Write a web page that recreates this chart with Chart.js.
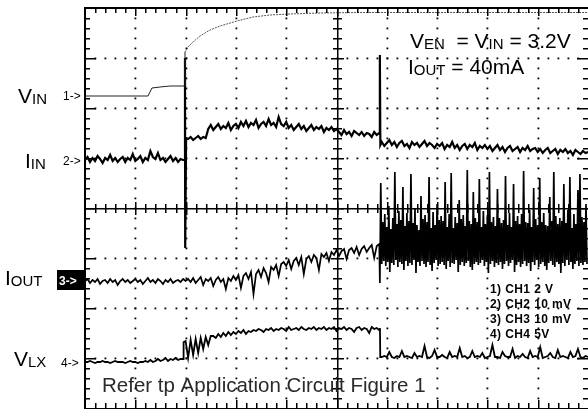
<!DOCTYPE html>
<html>
<head>
<meta charset="utf-8">
<script src="https://cdn.jsdelivr.net/npm/chart.js@4.4.1/dist/chart.umd.min.js"></script>
<style>
  html, body { margin: 0; padding: 0; background: #fff; }
  #scope { display: block; }
</style>
</head>
<body>
<canvas id="scope" width="588" height="409"></canvas>
<script>
// x: time in minor divisions (0..50), y: screen in minor divisions (0..40, 20 = centre)

// CH1 V_IN (key points)
const vinX = [0, 6.26, 6.66, 7.46, 8.45, 9.88, 9.94, 10.24, 10.74, 11.43, 12.43, 13.42, 15.11, 16.7, 18.39, 20.38, 23.36, 27.34, 31.31, 36.28, 41.25, 50];
const vinY = [31.2, 31.2, 32.0, 32.1, 32.2, 32.2, 35.6, 36.1, 36.6, 37.2, 37.8, 38.2, 38.7, 39.1, 39.3, 39.4, 39.5, 39.55, 39.55, 39.55, 39.55, 39.55];

// CH2 I_IN, sampled every 0.25
const iinPre = [24.8,25.1,24.6,25.0,24.7,25.2,24.9,24.5,25.0,24.8,
  25.3,24.7,25.0,24.6,24.9,25.1,24.6,25.0,24.8,25.4,
  24.7,24.9,25.2,24.6,25.0,24.8,25.7,25.1,24.9,25.5,
  24.8,25.0,24.6,24.9,25.2,24.7,25.0,24.6,24.9,24.8];
const iinSpike1X = [9.92, 9.94, 9.96, 10.05];
const iinSpike1Y = [24.8, 35.0, 16.0, 27.0];
const iinMid = [26.9,27.1,26.8,27.0,27.2,26.9,27.1,27.0,
  27.9,28.3,27.8,28.1,28.4,27.9,28.2,28.0,28.5,27.8,28.2,
  28.4,28.0,28.6,28.2,28.7,28.1,28.5,28.3,28.8,28.0,
  28.4,28.6,28.2,28.9,28.3,28.5,28.1,29.1,28.4,28.2,28.6,
  28.0,28.3,27.8,28.1,28.4,27.9,28.2,27.7,28.0,28.3,
  27.8,28.1,27.9,28.2,27.6,28.0,27.8,28.1,27.7,27.9,
  27.6,27.3,27.8,27.4,27.6,27.2,27.7,27.5,27.3,27.6,27.2,27.5,27.4,27.1,27.6,27.3,27.5];
const iinSpike2X = [29.3, 29.32, 29.36];
const iinSpike2Y = [27.4, 35.3, 26.3];
const iinPost = [26.6,26.2,26.5,26.8,26.3,26.6,26.1,26.5,26.7,26.2,26.4,26.0,26.6,26.3,26.5,26.1,26.4,26.7,26.2,26.5,26.3,
  26.0,26.4,26.2,26.5,25.9,26.3,26.1,26.6,26.0,26.3,25.8,26.2,26.4,25.9,26.3,26.1,26.5,25.8,26.2,26.0,26.3,
  25.9,26.2,25.7,26.0,26.3,25.8,26.1,25.6,26.0,26.2,25.7,25.9,26.1,25.6,26.0,25.8,26.2,25.7,25.9,26.0,
  25.6,25.9,25.5,25.8,26.0,25.5,25.7,25.9,25.4,25.8,25.6,25.9,25.5,25.7,25.3,25.8,25.6,25.4,25.7,25.5,25.6];

// CH3 I_OUT, sampled every 0.25 before the burst
const ioutPre = [12.7,12.9,12.5,12.8,12.6,12.9,12.4,12.7,12.8,12.5,12.9,12.6,12.8,12.3,12.7,12.9,12.6,12.8,12.5,12.7,
  12.9,12.6,12.8,12.4,12.7,13.0,12.6,12.8,12.5,12.9,12.7,12.4,12.8,12.6,12.9,12.5,12.7,12.8,12.6,12.9,
  12.7,12.9,12.6,13.0,12.5,12.8,13.1,12.3,12.9,12.7,13.0,12.2,12.8,13.1,12.6,12.9,11.9,13.0,12.7,13.2,
  12.8,13.3,12.0,13.2,13.5,12.9,13.6,11.4,13.4,13.8,13.1,14.0,13.5,12.6,14.1,13.8,14.3,13.2,14.4,14.6,
  14.2,14.8,13.9,14.7,15.0,14.3,15.1,13.4,14.9,15.2,14.6,15.3,15.0,13.8,15.4,15.1,15.5,14.7,15.6,15.3,
  15.8,15.2,15.7,15.9,14.9,15.8,16.0,15.5,16.1,15.3,15.9,16.2,15.6,16.0,16.3,15.0,16.2,16.4];
const ioutDipX = [29.3, 29.32];
const ioutDipY = [16.4, 12.5];
// switching burst: peak / floor pairs every 0.2 from 29.4
const burstHi = [22.5,18.6,19.4,18.1,20.2,17.9,19.0,23.6,18.4,19.7,
  18.8,22.1,18.2,19.5,18.7,23.4,18.5,19.9,18.3,17.8,
  21.2,18.9,19.3,18.6,23.1,18.0,19.6,18.3,20.4,18.8,
  19.2,18.7,22.6,18.1,19.4,23.5,18.0,19.1,18.5,20.8,
  18.9,19.3,18.2,23.8,18.7,18.4,21.6,19.0,18.6,22.9,
  18.1,19.7,18.4,19.3,23.6,18.6,19.1,18.2,21.9,19.0,
  18.5,18.8,23.2,18.3,19.5,18.1,22.4,18.7,19.2,18.4,
  19.4,23.7,18.6,18.5,19.8,18.1,22.0,18.9,18.3,23.0,
  18.6,19.5,18.3,18.2,21.1,18.7,23.6,19.2,18.4,19.0,
  18.7,22.4,18.5,19.8,23.1,18.0,19.4,18.4,21.8,23.4,
  19.1,18.6,20.4];
const burstLo = [14.4,14.7,14.2,14.6,13.6,14.5,14.3,14.8,14.1,14.6,
  14.4,13.8,14.7,14.2,14.5,14.3,14.8,13.5,14.6,14.2,
  14.7,14.4,14.1,14.6,14.3,13.7,14.5,14.8,14.2,14.4,
  14.6,14.3,13.9,14.7,14.1,14.5,14.4,14.8,13.6,14.3,
  14.6,14.2,14.5,14.7,14.1,13.8,14.4,14.6,14.3,14.5,
  14.8,14.2,14.6,13.5,14.4,14.7,14.1,14.5,14.3,14.6,
  13.9,14.4,14.7,14.2,14.5,14.8,13.6,14.3,14.6,14.1,
  14.4,14.7,14.2,14.5,13.7,14.6,14.3,14.8,14.1,14.4,
  14.6,14.2,13.8,14.5,14.7,14.3,14.1,14.6,14.4,13.5,
  14.5,14.2,14.8,14.3,14.6,13.9,14.4,14.7,14.2,14.5,
  14.3,14.6,14.4];

// CH4 V_LX, sampled every 0.25
const vlxPre = [4.6,4.6,4.7,4.6,4.5,4.6,4.6,4.7,4.6,4.6,
  4.5,4.6,4.7,4.6,4.6,4.6,4.5,4.6,4.7,4.6,
  4.6,4.5,4.6,4.6,4.7,4.6,4.8,4.6,4.7,4.9,
  4.7,4.8,5.0,4.7,4.9,4.8,5.0,4.8,4.9,4.9];
const vlxStepX = [9.8];
const vlxStepY = [6.6];
const vlxHigh = [6.7,5.0,6.8,5.3,6.9,5.5,7.0,5.9,7.1,6.3,7.2,
  7.2,7.0,7.4,7.1,7.5,7.2,7.6,7.3,7.6,7.4,7.7,7.5,7.8,7.4,7.7,7.6,7.8,
  7.7,7.9,7.8,7.6,7.9,7.8,8.0,7.7,7.9,7.8,8.0,7.9,7.7,8.1,7.8,7.9,8.0,7.8,8.1,7.9,7.8,8.0,7.9,8.1,7.8,
  8.0,7.9,8.1,7.8,8.0,7.9,8.1,7.7,8.0,7.9,8.1,7.8,8.0,7.9,7.6,8.0,8.1,7.8,8.0,7.9,7.5,8.1,7.9,8.0,7.8];
const vlxDropX = [29.32, 29.35];
const vlxDropY = [8.0, 5.1];
const vlxPost = [5.1,5.2,5.1,5.6,5.1,5.0,5.2,5.1,5.7,5.1,
  5.2,5.1,5.0,5.5,5.1,5.2,5.1,6.2,5.1,5.0,
  5.2,5.8,5.1,5.1,5.3,5.1,5.0,5.6,5.1,5.2,
  5.1,6.0,5.1,5.2,5.0,5.1,5.7,5.1,5.2,5.1,
  5.5,5.0,5.1,5.2,6.3,5.1,5.1,5.0,5.6,5.2,
  5.1,5.1,5.9,5.0,5.2,5.1,5.4,5.1,5.0,5.7,
  5.1,5.2,5.1,6.1,5.0,5.1,5.2,5.5,5.1,5.0,
  5.8,5.1,5.2,5.1,5.0,5.6,5.1,5.2,5.9,5.1,
  5.0,5.2,5.1];

function sampled(x0, step, ys) {
  return ys.map((y, i) => ({ x: x0 + i * step, y: y }));
}
function paired(xs, ys) {
  return xs.map((x, i) => ({ x: x, y: ys[i] }));
}
function burst(x0, step, hi, lo) {
  const out = [];
  hi.forEach((h, i) => {
    out.push({ x: x0 + i * step, y: h });
    out.push({ x: x0 + i * step + step / 2, y: lo[i] });
  });
  return out;
}

const vinData = paired(vinX, vinY);
const iinData = [].concat(sampled(0, 0.25, iinPre), paired(iinSpike1X, iinSpike1Y),
  sampled(10.25, 0.25, iinMid), paired(iinSpike2X, iinSpike2Y), sampled(29.5, 0.25, iinPost));
const ioutData = [].concat(sampled(0, 0.25, ioutPre), paired(ioutDipX, ioutDipY),
  burst(29.4, 0.2, burstHi, burstLo));
const vlxData = [].concat(sampled(0, 0.25, vlxPre), paired(vlxStepX, vlxStepY),
  sampled(10, 0.25, vlxHigh), paired(vlxDropX, vlxDropY), sampled(29.5, 0.25, vlxPost));

// graticule: border, dotted divisions, centre cross with ticks
const graticule = {
  id: 'graticule',
  afterDatasetsDraw(chart) {
    const ctx = chart.ctx;
    const xs = chart.scales.x, ys = chart.scales.y;
    const a = chart.chartArea;
    const X = v => Math.round(xs.getPixelForValue(v));
    const Y = v => Math.round(ys.getPixelForValue(v));
    const cx = X(25), cy = Y(20);
    ctx.save();
    ctx.fillStyle = '#000';
    // dotted division lines
    for (let i = 5; i < 50; i += 5) {
      if (i === 25) continue;
      for (let j = 1; j < 40; j++) ctx.fillRect(X(i) - 0.5, Y(j) - 0.5, 1.8, 1.8);
    }
    for (let j = 5; j < 40; j += 5) {
      if (j === 20) continue;
      for (let i = 1; i < 50; i++) ctx.fillRect(X(i) - 0.5, Y(j) - 0.5, 1.8, 1.8);
    }
    // centre cross with ticks
    ctx.fillRect(a.left, cy, a.right - a.left, 1.5);
    ctx.fillRect(cx, a.top, 1.5, a.bottom - a.top);
    for (let i = 1; i < 50; i++) {
      const h = i % 5 === 0 ? 6 : 4;
      const t = i % 5 === 0 ? 8 : 5;
      ctx.fillRect(X(i), cy - h, 1.5, 2 * h + 1);
      ctx.fillRect(X(i), a.top, 1.5, t);
      ctx.fillRect(X(i), a.bottom - t, 1.5, t);
    }
    for (let j = 1; j < 40; j++) {
      const h = j % 5 === 0 ? 6 : 4;
      const t = j % 5 === 0 ? 11 : 5;
      ctx.fillRect(cx - h, Y(j), 2 * h + 1, 1.5);
      ctx.fillRect(a.left, Y(j), t, 1.5);
      ctx.fillRect(a.right - t, Y(j), t, 1.5);
    }
    // border
    ctx.fillRect(a.left - 1, a.top - 1, 2, a.bottom - a.top + 2);
    ctx.fillRect(a.left, a.top - 1, a.right - a.left, 2);
    ctx.fillRect(a.left, a.bottom, a.right - a.left, 2);
    ctx.restore();
  }
};

function runs(ctx, x, y, parts) {
  parts.forEach(p => {
    ctx.font = p[1];
    ctx.fillText(p[0], x, y + (p[2] || 0));
    x += ctx.measureText(p[0]).width;
  });
}

const big = '21px "Liberation Sans", Arial, sans-serif';
const sub = '15px "Liberation Sans", Arial, sans-serif';
const mark = '12px "Liberation Sans", Arial, sans-serif';

const annotations = {
  id: 'annotations',
  afterDraw(chart) {
    const ctx = chart.ctx;
    ctx.save();
    ctx.fillStyle = '#000';
    ctx.textBaseline = 'alphabetic';
    // channel labels
    runs(ctx, 18, 103, [['V', big], ['IN', sub, 1]]);
    runs(ctx, 63, 100, [['1->', mark]]);
    runs(ctx, 25, 168, [['I', big], ['IN', sub, 1]]);
    runs(ctx, 63, 165, [['2->', mark]]);
    runs(ctx, 5, 285, [['I', big], ['OUT', sub, 1]]);
    ctx.fillRect(57, 270, 28, 20);
    ctx.fillStyle = '#fff';
    runs(ctx, 59, 285, [['3->', 'bold 12px "Liberation Sans", Arial, sans-serif']]);
    ctx.fillStyle = '#000';
    runs(ctx, 14, 366, [['V', big], ['LX', sub, 1]]);
    runs(ctx, 61, 367, [['4->', mark]]);
    // conditions
    runs(ctx, 410, 48, [['V', big], ['EN', sub, 1], ['  = V', big], ['IN', sub, 1], [' = 3.2V', big]]);
    runs(ctx, 408, 74, [['I', big], ['OUT', sub, 1], [' = 40mA', big]]);
    // channel scales
    ctx.font = 'bold 12px "Liberation Sans", Arial, sans-serif';
    ctx.letterSpacing = '0.4px';
    const chLines = ['1) CH1 2 V', '2) CH2 10 mV', '3) CH3 10 mV', '4) CH4 5V'];
    chLines.forEach((t, i) => ctx.fillText(t, 490, 293 + i * 15));
    ctx.letterSpacing = '0px';
    ctx.fillStyle = '#2a2a2a';
    ctx.font = '20.5px "Liberation Sans", Arial, sans-serif';
    ctx.fillText('Refer tp Application Circuit Figure 1', 102, 392);
    ctx.restore();
  }
};

const trace = (data, width, extra) => Object.assign({
  data: data, showLine: true, borderColor: '#000', borderWidth: width,
  pointRadius: 0, tension: 0, fill: false
}, extra || {});

new Chart(document.getElementById('scope'), {
  type: 'scatter',
  data: {
    datasets: [
      trace(vinData, 1, { borderColor: '#222',
        segment: { borderDash: c => c.p0DataIndex >= 6 ? [2, 1] : undefined,
                   borderColor: c => c.p0DataIndex >= 6 ? '#555' : '#222' } }),
      trace(iinData, 2.2),
      trace(ioutData, 1.7),
      trace(vlxData, 1.8)
    ]
  },
  options: {
    responsive: false,
    animation: false,
    devicePixelRatio: 1,
    layout: { autoPadding: false, padding: { left: 85, top: 8, right: 0, bottom: 1 } },
    scales: {
      x: { type: 'linear', min: 0, max: 50, display: false },
      y: { type: 'linear', min: 0, max: 40, display: false }
    },
    plugins: { legend: { display: false }, tooltip: { enabled: false } }
  },
  plugins: [graticule, annotations]
});
</script>
</body>
</html>
